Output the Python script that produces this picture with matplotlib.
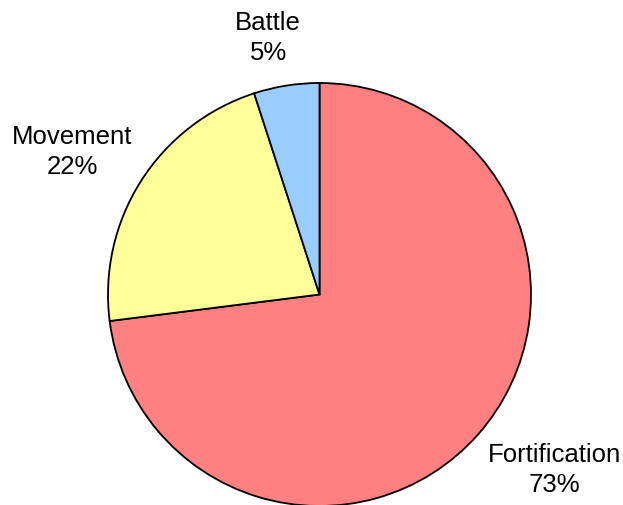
import numpy as np
import matplotlib.pyplot as plt

plt.rcParams['font.family'] = ['Liberation Sans', 'DejaVu Sans']

categories = ['Fortification', 'Movement', 'Battle']
shares = [73, 22, 5]
colors = ['#FF8080', '#FFFF99', '#99CCFF']
# label placement: distance from the centre (in radii) and angle nudge (deg)
label_dist = [1.384, 1.352, 1.241]
label_turn = [4.8, 2.2, 2.3]

fig = plt.figure(figsize=(6.23, 5.06), dpi=100)
ax = fig.add_axes([0, 0, 1, 1])

cx, cy, r = 319.5, 210.5, 211.5
wedges, _ = ax.pie(shares, colors=colors, startangle=90, counterclock=False,
                   center=(cx, cy), radius=r, frame=True,
                   wedgeprops=dict(edgecolor='black', linewidth=1.3))
ax.set_xlim(0, 623)
ax.set_ylim(0, 506)
ax.set_aspect('equal')
ax.axis('off')

for w, name, val, d, t in zip(wedges, categories, shares, label_dist, label_turn):
    ang = np.deg2rad((w.theta1 + w.theta2) / 2 + t)
    x = cx + d * r * np.cos(ang)
    y = cy + d * r * np.sin(ang)
    ax.text(x, y, f'{name}\n{val}%', ha='center', va='center',
            fontsize=18.5, linespacing=1.3)

fig.savefig('out.png', dpi=100)
